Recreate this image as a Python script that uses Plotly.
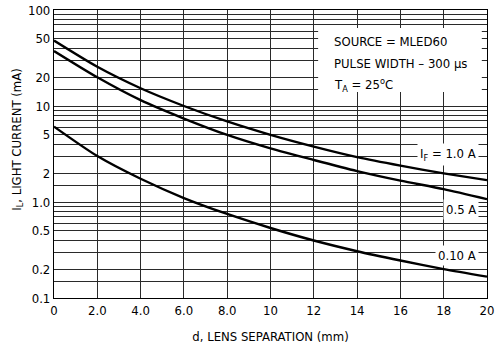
import math
import plotly.graph_objects as go

# Lens separation (mm) and light current (mA) for three forward currents
d_mm = [0, 2, 4, 6, 8, 10, 12, 14, 16, 18, 20]
il_1a = [48, 25.6, 15.3, 10.0, 6.9, 5.0, 3.77, 2.93, 2.39, 1.99, 1.69]
il_05a = [37.4, 19.9, 11.5, 7.4, 5.0, 3.62, 2.74, 2.10, 1.67, 1.36, 1.07]
il_01a = [6.1, 3.01, 1.745, 1.10, 0.75, 0.536, 0.397, 0.307, 0.246, 0.200, 0.167]

x_ticks = [0, 2, 4, 6, 8, 10, 12, 14, 16, 18, 20]
x_labels = ["0", "2.0", "4.0", "6.0", "8.0", "10", "12", "14", "16", "18", "20"]

y_ticks = [0.1, 0.2, 0.5, 1, 2, 5, 10, 20, 50, 100]
y_labels = ["0.1", "0.2", "0.5", "1.0", "2", "5", "10", "20", "50", "100"]
y_minor = [0.15, 0.3, 0.4, 0.6, 0.7, 0.8, 0.9,
           1.5, 3, 4, 6, 7, 8, 9,
           15, 30, 40, 60, 70, 80, 90]

curve_labels = ["I<sub>F</sub> = 1.0 A", "0.5 A", "0.10 A"]
curve_label_y = [3.1, 0.83, 0.274]

note_lines = ["SOURCE = MLED60", "PULSE WIDTH \u2013 300 \u03bcs", "T<sub>A</sub> = 25<sup>o</sup>C"]

FONT = "DejaVu Sans Condensed, Liberation Sans Narrow, Arial Narrow, sans-serif"
GRID = "#2a2a2a"

fig = go.Figure()
for series in (il_1a, il_05a, il_01a):
    fig.add_trace(go.Scatter(
        x=d_mm, y=series, mode="lines",
        line=dict(color="black", width=2.4, shape="spline", smoothing=0.7),
        showlegend=False, hoverinfo="skip",
    ))

fig.update_layout(
    width=503, height=344,
    margin=dict(l=54, r=16, t=10, b=46),
    paper_bgcolor="white", plot_bgcolor="white",
    font=dict(family=FONT, size=13, color="black"),
    xaxis=dict(
        range=[0, 20], tickmode="array", tickvals=x_ticks, ticktext=x_labels,
        showgrid=True, gridcolor=GRID, gridwidth=1, zeroline=False,
        showline=True, linecolor="black", linewidth=1.2, mirror=True,
        ticks="", tickfont=dict(size=13), automargin=False,
        title=dict(text="d, LENS SEPARATION (mm)", font=dict(size=13), standoff=15),
    ),
    yaxis=dict(
        type="log", range=[-1, 2], tickmode="array", tickvals=y_ticks, ticktext=y_labels,
        showgrid=True, gridcolor=GRID, gridwidth=1, zeroline=False,
        showline=True, linecolor="black", linewidth=1.2, mirror=True,
        ticks="", tickfont=dict(size=13), automargin=False,
        minor=dict(tickmode="array", tickvals=y_minor, showgrid=True,
                   gridcolor=GRID, gridwidth=1, ticks=""),
    ),
)

# Vertical axis title
fig.add_annotation(
    x=-0.085, y=0.55, xref="paper", yref="paper", xanchor="center", yanchor="middle",
    text="I<sub>L</sub>, LIGHT CURRENT (mA)", textangle=-90, showarrow=False,
    font=dict(size=13),
)

# White panel behind the test-condition note
fig.add_shape(type="rect", xref="paper", yref="paper",
              x0=0.61, x1=0.988, y0=0.715, y1=0.9375,
              fillcolor="white", line=dict(width=0), layer="above")

for i, line in enumerate(note_lines):
    fig.add_annotation(
        x=0.642, y=0.889 - i * 0.0745, xref="paper", yref="paper",
        xanchor="left", yanchor="middle", text=line, showarrow=False,
        font=dict(size=13),
    )

# Curve labels
for txt, yv in zip(curve_labels, curve_label_y):
    fig.add_annotation(
        x=19.65, y=math.log10(yv), xref="x", yref="y",
        xanchor="right", yanchor="middle", text=txt, showarrow=False,
        bgcolor="white", borderpad=2, font=dict(size=13),
    )

fig.write_html("out.html")
